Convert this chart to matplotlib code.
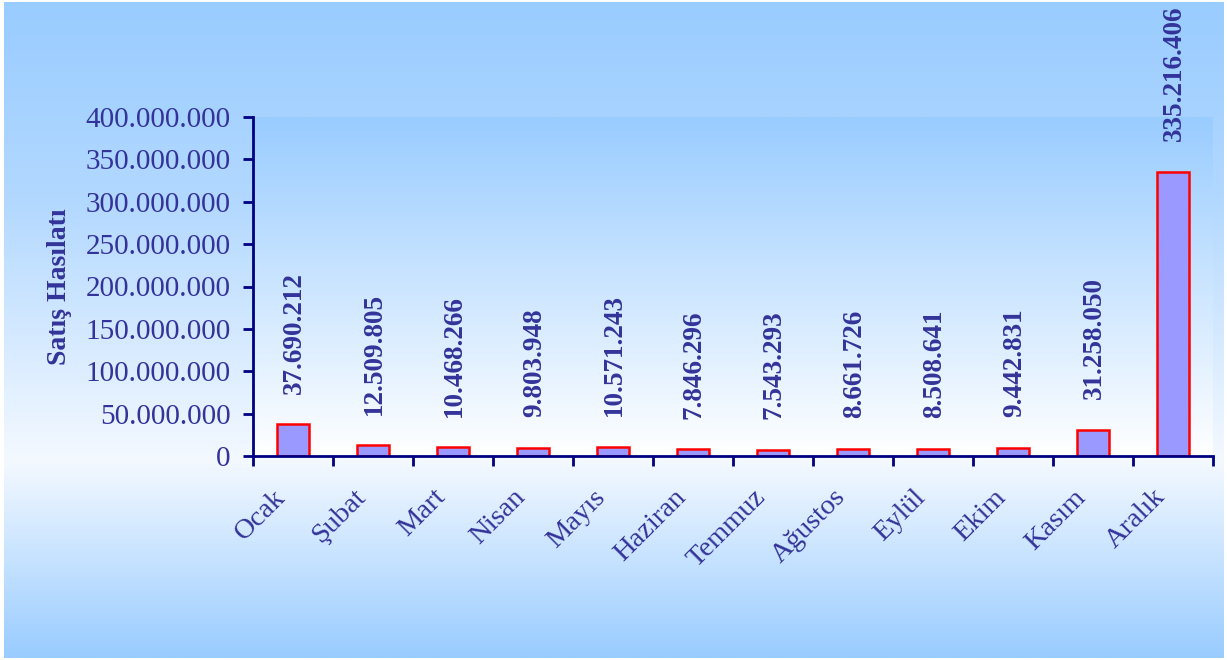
import numpy as np
import matplotlib
matplotlib.use("Agg")
import matplotlib.pyplot as plt
from matplotlib.colors import LinearSegmentedColormap
from matplotlib.ticker import FuncFormatter, FixedLocator

months = ["Ocak", "Şubat", "Mart", "Nisan", "Mayıs", "Haziran", "Temmuz",
          "Ağustos", "Eylül", "Ekim", "Kasım", "Aralık"]
sales = [37690212, 12509805, 10468266, 9803948, 10571243, 7846296, 7543293,
         8661726, 8508641, 9442831, 31258050, 335216406]
y_ticks = [0, 50000000, 100000000, 150000000, 200000000, 250000000,
           300000000, 350000000, 400000000]
y_label = "Satış Hasılatı"

TXT = "#333399"
AX = "#000080"
SERIF = ["Liberation Serif", "DejaVu Serif"]


def dotfmt(v):
    return f"{int(round(v)):,}".replace(",", ".")


W, H, DPI = 12.27, 6.6, 100
fig = plt.figure(figsize=(W, H), dpi=DPI, facecolor="white")

# figure background gradient
bg = fig.add_axes([0.003, 0.003, 0.994, 0.994], zorder=-10)
bg_cmap = LinearSegmentedColormap.from_list(
    "bg", [(0.0, "#99CCFF"), (0.30, "#B2D8FF"), (0.70, "#F4F9FF"), (1.0, "#99CCFF")])
grad = np.linspace(0, 1, 256).reshape(-1, 1)
bg.imshow(grad, aspect="auto", cmap=bg_cmap, extent=[0, 1, 1, 0])
bg.set_axis_off()

# plot area (pixels: x 253..1213, y 117..456)
x0, x1, y0, y1 = 253, 1213, 117, 456
ax = fig.add_axes([x0 / 1227, 1 - y1 / 660, (x1 - x0) / 1227, (y1 - y0) / 660])
ax.set_facecolor("none")

n = len(months)
xs = np.arange(n)

pa_cmap = LinearSegmentedColormap.from_list("pa", ["#99CCFF", "#FFFFFF"])
ax.imshow(grad, aspect="auto", cmap=pa_cmap,
          extent=[-0.5, n - 0.5, y_ticks[0], y_ticks[-1]], zorder=0,
          origin="upper")
ax.set_xlim(-0.5, n - 0.5)
ax.set_ylim(y_ticks[0], y_ticks[-1])

ax.bar(xs, sales, width=0.4, color="#9999FF", edgecolor="#FF0000",
       linewidth=1.8, zorder=3)

for x, v in zip(xs, sales):
    ax.annotate(dotfmt(v), xy=(x, v), xytext=(1, 22), textcoords="offset points",
                rotation=90, ha="center", va="bottom", color=TXT,
                fontsize=19.5, fontweight="bold", family=SERIF,
                annotation_clip=False, zorder=4)

for s in ["top", "right"]:
    ax.spines[s].set_visible(False)
for s in ["left", "bottom"]:
    ax.spines[s].set_color(AX)
    ax.spines[s].set_linewidth(2)
    ax.spines[s].set_zorder(5)

ax.yaxis.set_major_locator(FixedLocator(y_ticks))
ax.yaxis.set_major_formatter(FuncFormatter(lambda v, p: dotfmt(v)))
ax.tick_params(axis="y", direction="out", length=7, width=2, color=AX,
               labelcolor=TXT, labelsize=21, pad=9)
for lab in ax.get_yticklabels():
    lab.set_family(SERIF)

# x: ticks at category boundaries, labels placed manually
ax.set_xticks(np.arange(n + 1) - 0.5)
ax.set_xticklabels([])
ax.tick_params(axis="x", direction="out", length=7, width=2, color=AX)
for x, m in zip(xs, months):
    ax.annotate(m, xy=(x, 0), xycoords=("data", "axes fraction"),
                xytext=(-8, -27), textcoords="offset points",
                rotation=45, rotation_mode="anchor", ha="right", va="center",
                color=TXT, fontsize=20.5, family=SERIF, annotation_clip=False)

ax.set_ylabel(y_label, color=TXT, fontsize=20, fontweight="bold", family=SERIF)
ax.yaxis.set_label_coords(-0.1885, 0.5)

fig.savefig("out.png", dpi=DPI, facecolor="white")
